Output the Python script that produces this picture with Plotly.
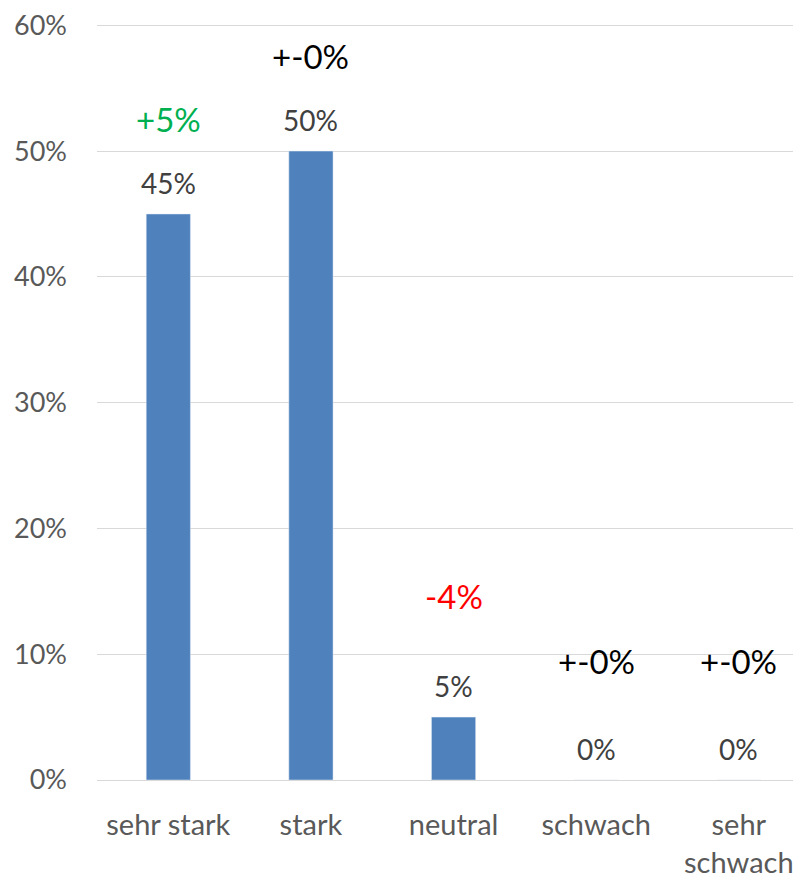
import plotly.graph_objects as go

categories = ["sehr stark", "stark", "neutral", "schwach", "sehr schwach"]
tick_labels = ["sehr stark", "stark", "neutral", "schwach", "sehr<br>schwach"]
values = [45, 50, 5, 0, 0]
changes = [5, 0, -4, 0, 0]
y_ticks = [0, 10, 20, 30, 40, 50, 60]

# styling (pixel offsets of change labels above bar top)
change_offsets_px = [95, 95, 121, 119, 119]
FONT = "Lato"


def change_text(c):
    if c > 0:
        return f"+{c}%"
    if c < 0:
        return f"{c}%"
    return "+-0%"


def change_color(c):
    if c > 0:
        return "#00B050"
    if c < 0:
        return "#FF0000"
    return "#000000"


xs = list(range(len(categories)))

fig = go.Figure()
fig.add_trace(go.Bar(x=xs, y=values, marker_color="#4F81BD", width=0.31,
                     hoverinfo="skip"))

annotations = []
for i, v in enumerate(values):
    annotations.append(dict(x=i, y=v, xref="x", yref="y", text=f"{v}%",
                            showarrow=False, yanchor="bottom", yshift=12,
                            font=dict(family=FONT, size=28, color="#404040")))
for i, (v, c) in enumerate(zip(values, changes)):
    annotations.append(dict(x=i, y=v, xref="x", yref="y", text=change_text(c),
                            showarrow=False, yanchor="middle",
                            yshift=change_offsets_px[i],
                            font=dict(family=FONT, size=33, color=change_color(c))))

fig.update_layout(
    width=793, height=871,
    margin=dict(l=89, r=0, t=7.6, b=95, pad=0),
    paper_bgcolor="white", plot_bgcolor="white",
    showlegend=False,
    annotations=annotations,
    xaxis=dict(range=[-0.5, 4.436], tickvals=xs, ticktext=tick_labels,
               showgrid=False, zeroline=False, showline=False, ticks="",
               tickfont=dict(family=FONT, size=29, color="#595959"),
               ticklabelstandoff=25),
    yaxis=dict(range=[0, 60.5], tickvals=y_ticks,
               ticktext=[f"{t}%" for t in y_ticks],
               showgrid=True, gridcolor="#D9D9D9", gridwidth=1,
               zeroline=True, zerolinecolor="#D9D9D9", zerolinewidth=1,
               showline=False, ticks="", ticklabeloverflow="allow",
               tickfont=dict(family=FONT, size=27, color="#595959"),
               ticklabelstandoff=29),
)

fig.write_html("out.html", config={"displayModeBar": False})
